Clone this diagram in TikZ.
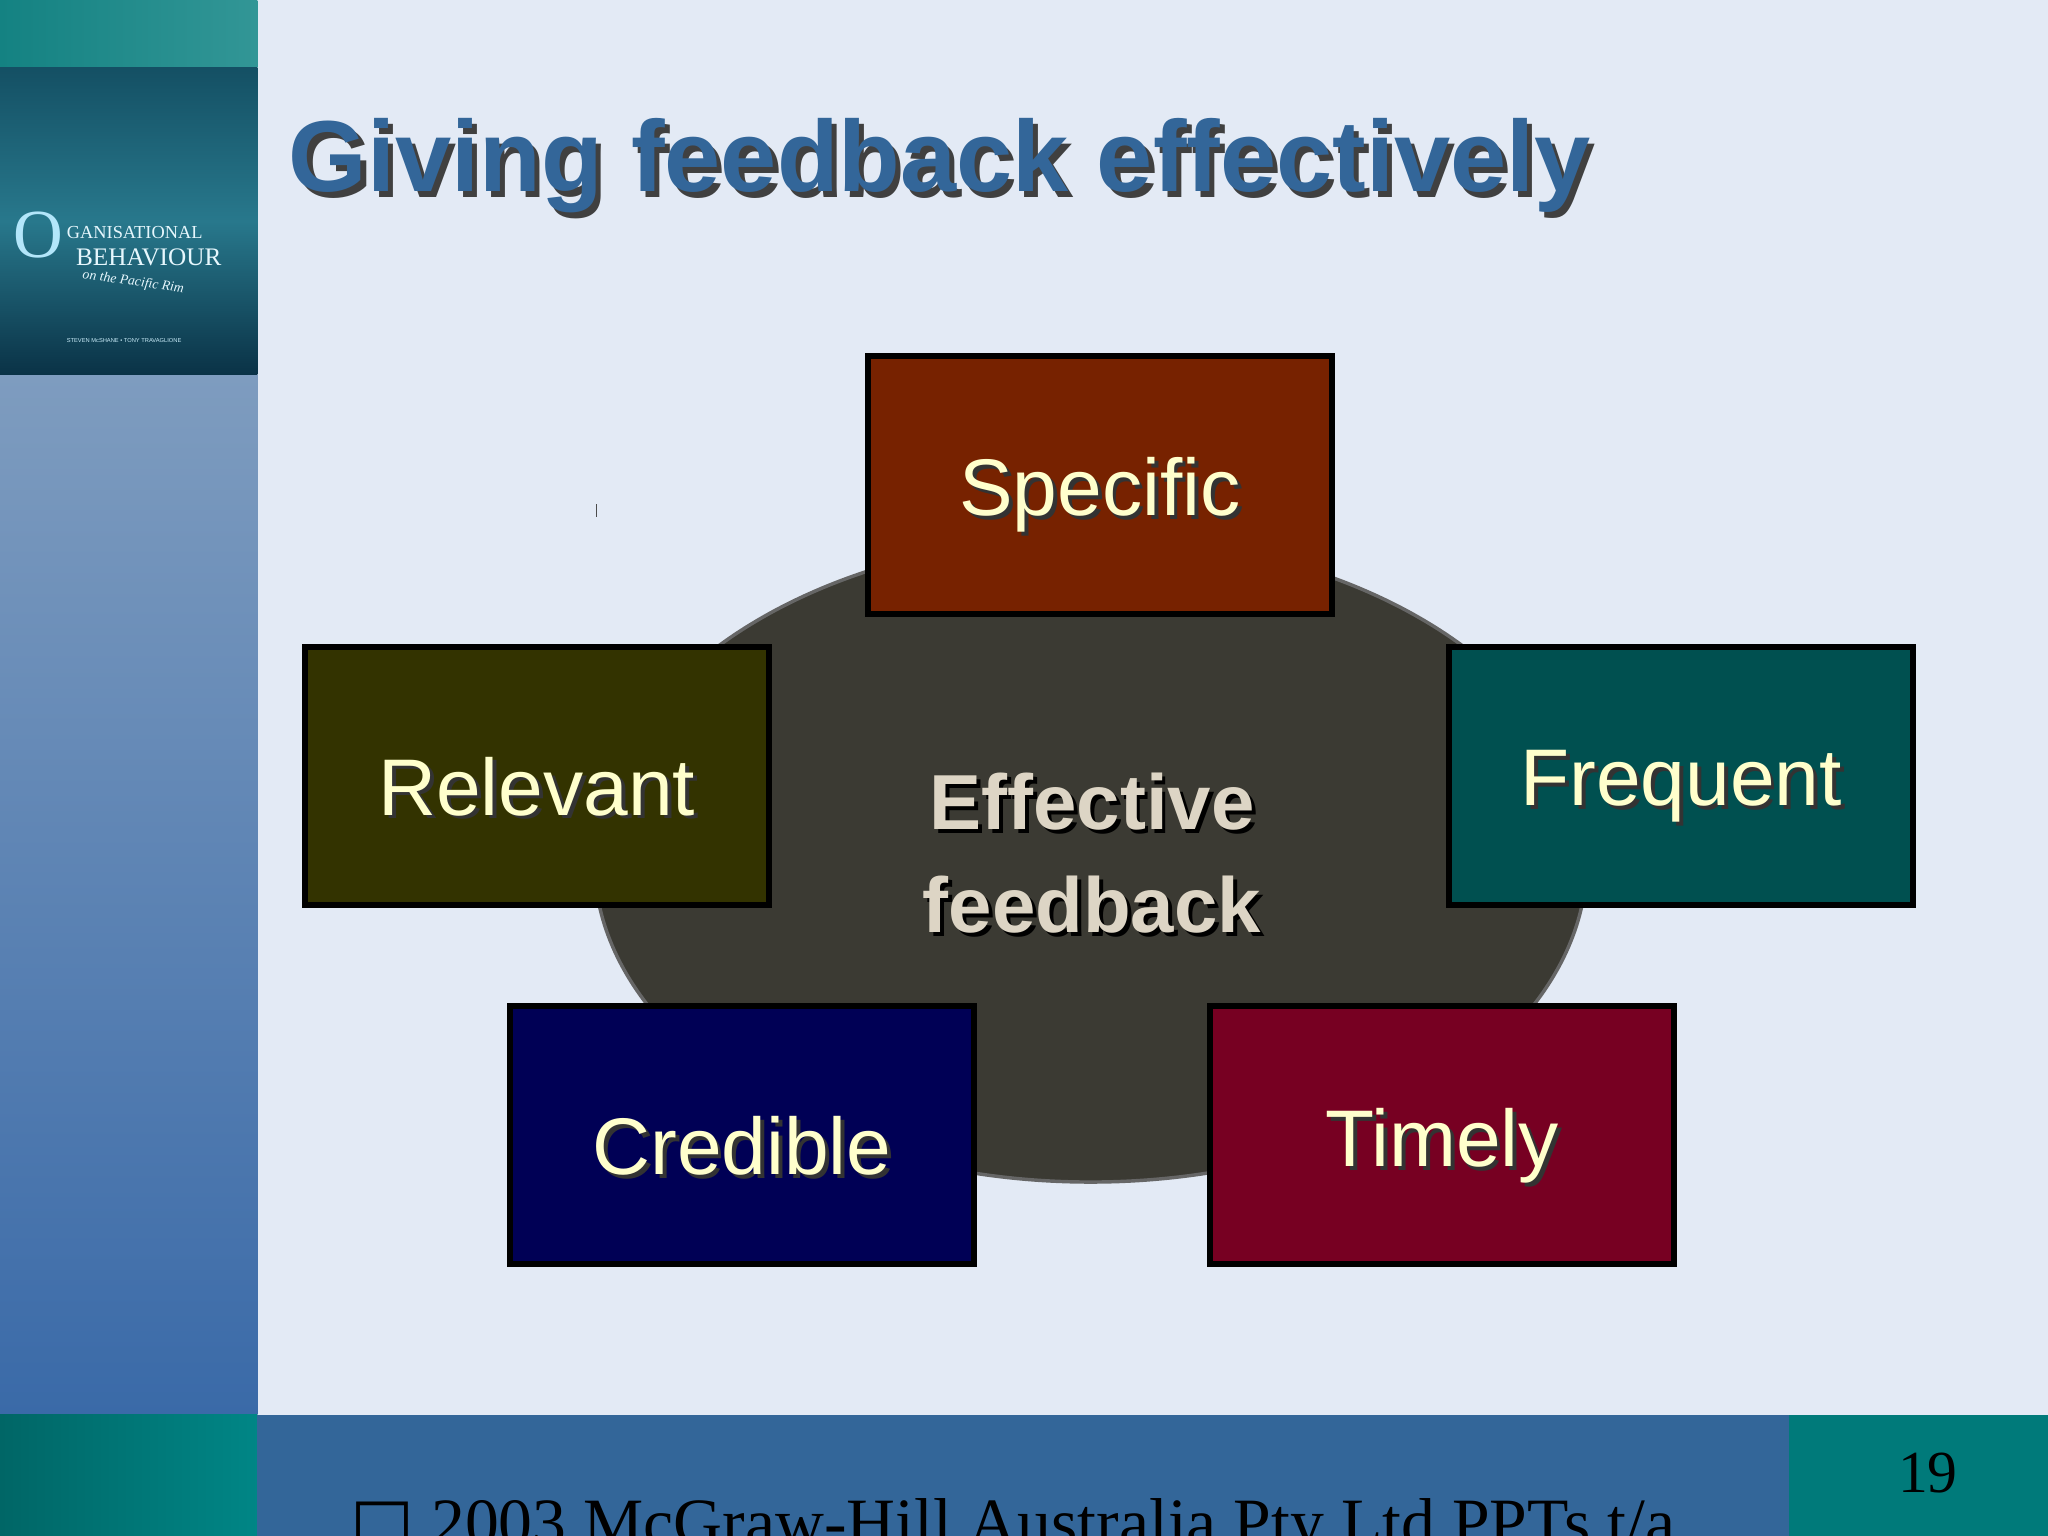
\documentclass[tikz,border=0pt]{standalone}
\usepackage{fontspec}
\setmainfont{Liberation Sans}
\newfontfamily\serifx{Liberation Serif}
\newfontfamily\dejavu{DejaVu Sans}
\definecolor{bg}{HTML}{E3EAF5}
\definecolor{ttl}{HTML}{336699}
\definecolor{cream}{HTML}{FFFFCC}
\tikzset{x=0.02cm,y=-0.02cm,
 box/.style={draw=black,line width=2.6pt,minimum width=7.1cm,minimum height=3.95cm,inner sep=0pt},
 shd/.style={text=black!80,font=\fontsize{35}{40}\selectfont}}
\begin{document}
\begin{tikzpicture}
\useasboundingbox (0,0) rectangle (1568,1176);
\begin{scope}
\clip (0,0) rectangle (1568,1176);
\fill[bg] (0,0) rectangle (1568,1176);
% left strip
\shade[left color={rgb,255:red,20;green,130;blue,130},right color={rgb,255:red,50;green,150;blue,150}] (0,0) rectangle (197,52);
\shade[top color={rgb,255:red,126;green,156;blue,191},bottom color={rgb,255:red,58;green,106;blue,168}] (0,287) rectangle (197,1083);
\shade[top color={rgb,255:red,20;green,80;blue,100},bottom color={rgb,255:red,10;green,50;blue,70},middle color={rgb,255:red,40;green,120;blue,140}] (0,52) rectangle (197,287);
\node[text=cyan!30,font=\serifx\fontsize{30}{30}\selectfont,anchor=west] (co) at (4,180) {O};
\node[text=white!90!cyan,font=\serifx\fontsize{8}{8}\selectfont,anchor=west] (c1) at (45,178) {GANISATIONAL};
\node[text=white!90!cyan,font=\serifx\fontsize{11}{11}\selectfont,anchor=west] (c2) at (52,197) {BEHAVIOUR};
\node[text=white!90!cyan,font=\serifx\itshape\fontsize{6}{6}\selectfont,rotate=-8] (c3) at (102,216) {on the Pacific Rim};
\node[text=white!80!cyan,font=\fontsize{2.5}{3}\selectfont] (c4) at (95,261) {STEVEN McSHANE \textbullet{} TONY TRAVAGLIONE};
% bottom band
\shade[left color=teal!80!black,right color=teal!50!cyan!70!black] (0,1083) rectangle (197,1176);
\fill[ttl] (197,1083) rectangle (1370,1176);
\fill[teal!80!cyan!80!black] (1370,1083) rectangle (1568,1176);
\node[font=\serifx\fontsize{26}{26}\selectfont] (pg) at (1476,1128) {19};
\node[anchor=base west,font=\serifx\fontsize{29.5}{30}\selectfont] (ft) at (262,1183) {{\dejavu □} 2003 McGraw-Hill Australia Pty Ltd PPTs t/a};
\end{scope}
% title
\node[anchor=base west,text=black!75,font=\bfseries\fontsize{44}{50}\selectfont] at (219,151) {Giving feedback effectively};
\node[anchor=base west,text=ttl,font=\bfseries\fontsize{44}{50}\selectfont] (title) at (215,147) {Giving feedback effectively};
\draw[black!70,line width=0.4pt] (457,386) -- (457,396);
% ellipse
\draw[fill={rgb,255:red,59;green,58;blue,51},draw=black!60,line width=1.5pt] (835,658) ellipse [x radius=380,y radius=247];
\node[text=black,font=\bfseries\fontsize{34}{45}\selectfont,align=center] at (839,656) {Effective\\feedback};
\node[text={rgb,255:red,221;green,213;blue,197},font=\bfseries\fontsize{34}{45}\selectfont,align=center] (ctr) at (836,653) {Effective\\feedback};
% boxes
\foreach \n/\t/\c/\px/\py in {sp/Specific/772200/842/371, re/Relevant/333300/411/594, fr/Frequent/005050/1287/594, cr/Credible/000055/568/869, ti/Timely/770022/1104/869}{
  \definecolor{bc}{HTML}{\c}
  \node[box,fill=bc] (\n) at (\px,\py) {};
  \node[shd] at (\px+3,\py+11) {\t};
  \node[text=cream,font=\fontsize{35}{40}\selectfont] (\n t) at (\px,\py+8) {\t};
}
\end{tikzpicture}
\end{document}
